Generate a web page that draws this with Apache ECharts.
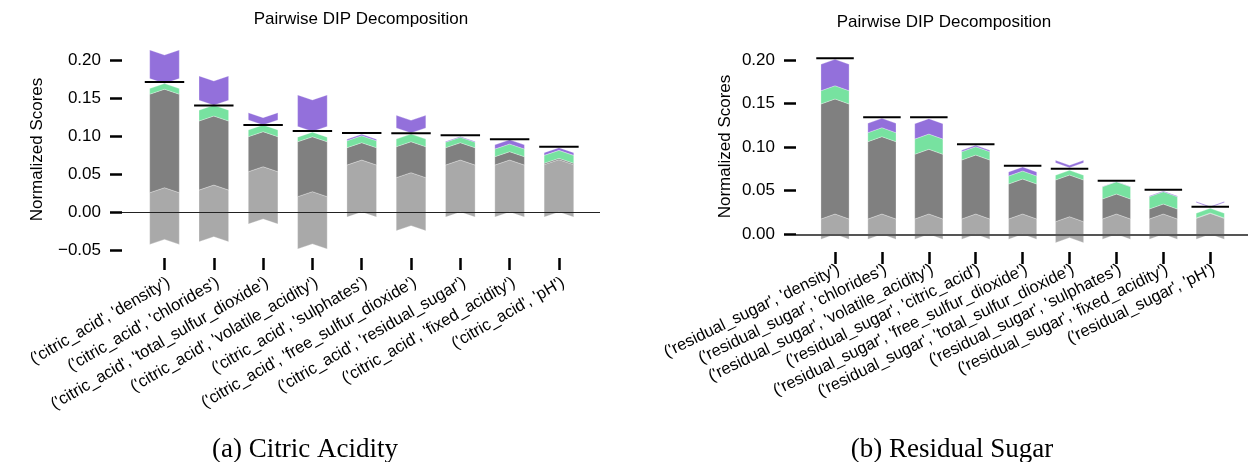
<!DOCTYPE html>
<html><head><meta charset="utf-8">
<script src="https://cdn.jsdelivr.net/npm/echarts@6/dist/echarts.min.js"></script>
<style>html,body{margin:0;padding:0;background:#fff}#c{width:1248px;height:462px}</style>
</head><body><div id="c"></div><script>
// ---------- data (a) Citric Acidity ----------
const leftCats = ["('citric_acid', 'density')", "('citric_acid', 'chlorides')", "('citric_acid', 'total_sulfur_dioxide')", "('citric_acid', 'volatile_acidity')", "('citric_acid', 'sulphates')", "('citric_acid', 'free_sulfur_dioxide')", "('citric_acid', 'residual_sugar')", "('citric_acid', 'fixed_acidity')", "('citric_acid', 'pH')"];
const leftLgStart = [-0.036, -0.0325, -0.0092, -0.042, 0.0, -0.018, 0.0, 0.0, 0.0];
const leftLgEnd = [0.032, 0.0355, 0.0596, 0.0268, 0.0684, 0.0518, 0.0684, 0.0684, 0.0689];
const leftDgEnd = [0.1616, 0.1263, 0.1057, 0.099, 0.0912, 0.0925, 0.0912, 0.0794, 0.0706];
const leftGreenEnd = [0.169, 0.1405, 0.1145, 0.105, 0.1004, 0.1025, 0.0985, 0.0895, 0.0811];
const leftPurpleStart = [0.2066, 0.1724, 0.1241, 0.1474, 0.1004, 0.1206, 0.0985, 0.0895, 0.0811];
const leftPurpleEnd = [0.169, 0.1405, 0.1145, 0.106, 0.1022, 0.104, 0.0995, 0.0950, 0.0846];
const leftTotal = [0.171, 0.140, 0.1145, 0.1066, 0.104, 0.1035, 0.1009, 0.0956, 0.086];
const leftYTicks = [-0.05, 0, 0.05, 0.10, 0.15, 0.20];

// ---------- data (b) Residual Sugar ----------
const rightCats = ["('residual_sugar', 'density')", "('residual_sugar', 'chlorides')", "('residual_sugar', 'volatile_acidity')", "('residual_sugar', 'citric_acid')", "('residual_sugar', 'free_sulfur_dioxide')", "('residual_sugar', 'total_sulfur_dioxide')", "('residual_sugar', 'sulphates')", "('residual_sugar', 'fixed_acidity')", "('residual_sugar', 'pH')"];
const rightLgStart = [0, 0, 0, 0, 0, -0.0039, 0, 0, 0];
const rightLgEnd = [0.0233, 0.0233, 0.0233, 0.0233, 0.0233, 0.0202, 0.0233, 0.0233, 0.024];
const rightDgEnd = [0.1552, 0.112, 0.0975, 0.0909, 0.0634, 0.068, 0.0462, 0.0347, 0.0245];
const rightGreenEnd = [0.1704, 0.1223, 0.115, 0.1005, 0.0726, 0.0734, 0.0603, 0.0489, 0.0298];
const rightPurpleStart = [0.1704, 0.1223, 0.115, 0.1005, 0.0726, 0.0791, 0.0603, 0.0489, 0.0318];
const rightPurpleEnd = [0.2007, 0.133, 0.1326, 0.102, 0.0772, 0.0764, 0.0606, 0.0497, 0.0306];
const rightTotal = [0.2018, 0.1342, 0.1342, 0.1032, 0.0787, 0.0752, 0.0615, 0.0512, 0.0317];
const rightYTicks = [0, 0.05, 0.10, 0.15, 0.20];

const titleText = 'Pairwise DIP Decomposition';
const yName = 'Normalized Scores';
const captionA = '(a) Citric Acidity';
const captionB = '(b) Residual Sugar';

// ---------- styles ----------
const FONT = "'Liberation Sans', Arial, Helvetica, sans-serif";
const SERIF = "'Liberation Serif', 'Times New Roman', serif";
const C_LG = '#A9A9A9', C_DG = '#808080', C_GREEN = '#77E2A0', C_PURPLE = '#9370DB';
const DEPTH = 5;
const catIdx = [0, 1, 2, 3, 4, 5, 6, 7, 8];

function buildRows(ls, le, de, ge, ps, pe, tot) {
  return catIdx.map(i => [i, ls[i], le[i], de[i], ge[i], ps[i], pe[i], tot[i]]);
}

function chevron(xc, w, ys, ye, up) {
  const dd = up ? DEPTH : -DEPTH;
  return [[xc - w / 2, ys + dd], [xc, ys], [xc + w / 2, ys + dd],
          [xc + w / 2, ye + dd], [xc, ye], [xc - w / 2, ye + dd]];
}

function renderItem(params, api) {
  const i = api.value(0);
  const v = [1, 2, 3, 4, 5, 6, 7].map(k => api.value(k));
  const band = api.size([1, 0])[0];
  const w = band * 0.6;
  const xc = api.coord([i, 0])[0];
  const Y = val => api.coord([i, val])[1];
  const segs = [[v[0], v[1], C_LG], [v[1], v[2], C_DG], [v[2], v[3], C_GREEN], [v[4], v[5], C_PURPLE]];
  const children = segs.map(([s, e, c]) => ({
    type: 'polygon',
    shape: { points: chevron(xc, w, Y(s), Y(e), e >= s) },
    style: { fill: c, stroke: 'rgba(255,255,255,0.35)', lineWidth: 0.8 }
  }));
  const yt = Y(v[6]);
  children.push({
    type: 'line',
    shape: { x1: xc - band * 0.4, y1: yt, x2: xc + band * 0.4, y2: yt },
    style: { stroke: '#000', lineWidth: 2 }
  });
  return { type: 'group', children };
}

function fmtY(val) {
  const s = Math.abs(val).toFixed(2);
  return val < -1e-9 ? '\u2212' + s : s;
}

function xAxisCfg(gridIndex, min, max, cats, rot, margin, fs) {
  return {
    gridIndex, type: 'value', min, max, position: 'bottom',
    axisLine: { show: false, onZero: false },
    splitLine: { show: false },
    axisTick: { show: true, length: 12, lineStyle: { color: '#000', width: 2.5 }, customValues: catIdx },
    axisLabel: {
      customValues: catIdx, formatter: val => cats[Math.round(val)],
      rotate: rot, align: 'right', verticalAlign: 'top', margin,
      fontFamily: FONT, fontSize: fs, color: '#000'
    }
  };
}

function yAxisCfg(gridIndex, min, max, ticks, gap) {
  return {
    gridIndex, type: 'value', min, max, position: 'left',
    name: yName, nameLocation: 'middle', nameGap: gap, nameRotate: 90,
    nameTextStyle: { fontFamily: FONT, fontSize: 17, color: '#000' },
    axisLine: { show: false, onZero: false },
    splitLine: { show: false },
    axisTick: { show: true, length: 12, lineStyle: { color: '#000', width: 2.5 }, customValues: ticks },
    axisLabel: { customValues: ticks, formatter: fmtY, margin: 21, fontFamily: FONT, fontSize: 17, color: '#000' }
  };
}

function seriesCfg(idx, rows, zeroColor, zeroWidth) {
  return {
    type: 'custom', xAxisIndex: idx, yAxisIndex: idx,
    renderItem, data: rows, encode: { x: 0, y: [1, 2, 3, 4, 5, 6, 7] },
    silent: true, animation: false, clip: false,
    markLine: {
      silent: true, symbol: ['none', 'none'], label: { show: false }, animation: false,
      lineStyle: { color: zeroColor, width: zeroWidth, type: 'solid' },
      data: [{ yAxis: 0 }]
    }
  };
}

const chart = echarts.init(document.getElementById('c'), null, { renderer: 'canvas' });
chart.setOption({
  backgroundColor: '#fff',
  animation: false,
  grid: [
    { left: 122, top: 41, width: 478, height: 217 },
    { left: 796, top: 41, width: 452, height: 211 }
  ],
  xAxis: [
    xAxisCfg(0, -0.862, 8.833, leftCats, 30, 16, 16.5),
    xAxisCfg(1, -0.832, 8.805, rightCats, 26, 9, 16.5)
  ],
  yAxis: [
    yAxisCfg(0, -0.0605, 0.225, leftYTicks, 76),
    yAxisCfg(1, -0.0203, 0.2217, rightYTicks, 62)
  ],
  series: [
    seriesCfg(0, buildRows(leftLgStart, leftLgEnd, leftDgEnd, leftGreenEnd, leftPurpleStart, leftPurpleEnd, leftTotal), '#222', 1.2),
    seriesCfg(1, buildRows(rightLgStart, rightLgEnd, rightDgEnd, rightGreenEnd, rightPurpleStart, rightPurpleEnd, rightTotal), '#555', 1.8)
  ],
  graphic: [
    { type: 'text', x: 361, y: 19, style: { text: titleText, font: '17px ' + FONT, fill: '#000', textAlign: 'center', textVerticalAlign: 'middle' } },
    { type: 'text', x: 944, y: 22, style: { text: titleText, font: '17px ' + FONT, fill: '#000', textAlign: 'center', textVerticalAlign: 'middle' } },
    { type: 'text', x: 305, y: 450, style: { text: captionA, font: '27px ' + SERIF, fill: '#000', textAlign: 'center', textVerticalAlign: 'middle' } },
    { type: 'text', x: 952, y: 450, style: { text: captionB, font: '27px ' + SERIF, fill: '#000', textAlign: 'center', textVerticalAlign: 'middle' } }
  ]
});
</script></body></html>
